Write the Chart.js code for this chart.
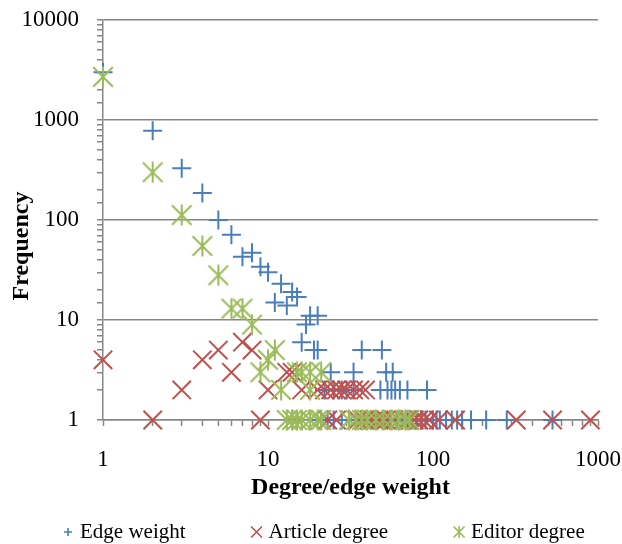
<!DOCTYPE html>
<html>
<head>
<meta charset="utf-8">
<title>Degree / edge weight distribution</title>
<script src="https://cdn.jsdelivr.net/npm/chart.js@4.4.1/dist/chart.umd.min.js"></script>
<style>
  html, body { margin: 0; padding: 0; background: #fff; }
  #wrap { width: 622px; height: 544px; }
</style>
</head>
<body>
<div id="wrap"><canvas id="degreeChart" width="622" height="544"></canvas></div>
<script>
// values
const edgeWeightX = [1, 2, 3, 4, 5, 6, 7, 8, 9, 10, 11, 12, 13, 14, 15, 16, 17, 18, 19, 20, 20,
  24, 33, 52, 57, 37, 49,
  22, 25, 28, 30, 33, 48, 53, 56, 59, 63, 70, 92,
  21, 23, 25, 28, 31, 34, 38, 42, 45, 50, 55, 60, 65, 70, 75, 80, 85, 90, 100, 105, 110, 120, 130, 140, 150, 170, 210, 280, 530];
const edgeWeightY = [3000, 780, 330, 186, 100, 71, 43, 47, 34, 30, 15, 23, 14, 19, 17, 6, 9, 11, 5, 11, 5,
  3, 3, 3, 3, 5, 5,
  2, 2, 2, 2, 2, 2, 2, 2, 2, 2, 2, 2,
  1, 1, 1, 1, 1, 1, 1, 1, 1, 1, 1, 1, 1, 1, 1, 1, 1, 1, 1, 1, 1, 1, 1, 1, 1, 1, 1, 1, 1];

const articleDegreeX = [1, 2, 3, 4, 5, 6, 7, 8, 9, 10, 13, 14,
  16, 20, 22, 24, 26, 28, 30, 33, 36, 39,
  23, 26, 35, 38, 41, 44, 47, 49, 52, 58, 62, 70, 77, 82, 88, 95, 108, 137, 320, 530, 900];
const articleDegreeY = [4, 1, 2, 4, 5, 3, 6, 5, 1, 2, 3, 3,
  2, 2, 2, 2, 2, 2, 2, 2, 2, 2,
  1, 1, 1, 1, 1, 1, 1, 1, 1, 1, 1, 1, 1, 1, 1, 1, 1, 1, 1, 1, 1];

const editorDegreeX = [1, 2, 3, 4, 5, 6, 7, 8, 9, 10, 11, 12, 18, 15, 16, 18, 21,
  13, 14, 15, 16, 18, 20, 21, 31, 34, 37, 40, 45, 50, 56, 62, 68, 72];
const editorDegreeY = [2700, 300, 112, 55, 28, 13, 13, 9, 3, 4, 5, 2, 2, 3, 3, 3, 3,
  1, 1, 1, 1, 1, 1, 1, 1, 1, 1, 1, 1, 1, 1, 1, 1, 1];

const seriesNames = ['Edge weight', 'Article degree', 'Editor degree'];
const seriesColors = ['#4a7ebb', '#c0504d', '#9bbb59'];

const GRID = '#868686';
const SERIF = "'Liberation Serif', 'Times New Roman', serif";

const toPoints = (xs, ys) => xs.map((x, i) => ({ x, y: ys[i] }));

function isDecade(v) {
  const p = Math.round(Math.log10(v));
  return Math.abs(v - Math.pow(10, p)) < 1e-6 * v;
}
const decadeLabel = v => isDecade(v) ? String(v) : '';

// plus / x / excel-like star (x with a vertical bar)
function drawMarker(ctx, kind, cx, cy, h, color, lw) {
  ctx.save();
  ctx.strokeStyle = color;
  ctx.lineWidth = lw;
  ctx.beginPath();
  if (kind === 'plus') {
    ctx.moveTo(cx - h, cy); ctx.lineTo(cx + h, cy);
    ctx.moveTo(cx, cy - h); ctx.lineTo(cx, cy + h);
  } else {
    ctx.moveTo(cx - h, cy - h); ctx.lineTo(cx + h, cy + h);
    ctx.moveTo(cx + h, cy - h); ctx.lineTo(cx - h, cy + h);
    if (kind === 'star') {
      ctx.moveTo(cx, cy - h * 1.08); ctx.lineTo(cx, cy + h * 1.08);
    }
  }
  ctx.stroke();
  ctx.restore();
}

function starCanvas(size, color, lw) {
  const c = document.createElement('canvas');
  c.width = size; c.height = size;
  drawMarker(c.getContext('2d'), 'star', size / 2, size / 2, size / 2 - 1.2, color, lw);
  return c;
}

const legendKinds = ['plus', 'x', 'star'];
const legendSizes = [4, 5.5, 5.5];

const bottomLegend = {
  id: 'bottomLegend',
  afterDraw(chart, args, opts) {
    const ctx = chart.ctx;
    ctx.save();
    ctx.font = opts.font;
    ctx.textBaseline = 'middle';
    ctx.textAlign = 'left';
    let cx = opts.x;
    chart.data.datasets.forEach((ds, i) => {
      drawMarker(ctx, legendKinds[i], cx, opts.y, legendSizes[i], ds.pointBorderColor, 1.6);
      const tx = cx + opts.textGap;
      ctx.fillStyle = '#000';
      ctx.fillText(ds.label, tx, opts.y);
      cx = tx + ctx.measureText(ds.label).width + opts.itemGap;
    });
    ctx.restore();
  }
};

const frequencyTitle = {
  id: 'frequencyTitle',
  afterDraw(chart, args, opts) {
    const ctx = chart.ctx;
    ctx.save();
    ctx.translate(opts.x, opts.y);
    ctx.rotate(-Math.PI / 2);
    ctx.font = opts.font;
    ctx.fillStyle = '#000';
    ctx.textAlign = 'center';
    ctx.textBaseline = 'middle';
    ctx.fillText(opts.text, 0, 0);
    ctx.restore();
  }
};

Chart.defaults.font.family = SERIF;
Chart.defaults.color = '#000';

const datasets = [
  {
    label: seriesNames[0],
    data: toPoints(edgeWeightX, edgeWeightY),
    pointStyle: 'cross', pointRadius: 9.5,
    pointBorderColor: seriesColors[0], pointBackgroundColor: seriesColors[0], pointBorderWidth: 2,
    order: 3
  },
  {
    label: seriesNames[1],
    data: toPoints(articleDegreeX, articleDegreeY),
    pointStyle: 'crossRot', pointRadius: 13,
    pointBorderColor: seriesColors[1], pointBackgroundColor: seriesColors[1], pointBorderWidth: 2,
    order: 2
  },
  {
    label: seriesNames[2],
    data: toPoints(editorDegreeX, editorDegreeY),
    pointStyle: starCanvas(22, seriesColors[2], 2), pointRadius: 10,
    pointBorderColor: seriesColors[2], pointBackgroundColor: seriesColors[2], pointBorderWidth: 2,
    order: 1
  }
];

new Chart(document.getElementById('degreeChart'), {
  type: 'scatter',
  data: { datasets: datasets.map(d => ({ ...d, showLine: false, clip: false })) },
  plugins: [bottomLegend, frequencyTitle],
  options: {
    responsive: false,
    animation: false,
    events: [],
    devicePixelRatio: 1,
    layout: { padding: { left: 0, right: 24, top: 20, bottom: 0 } },
    scales: {
      x: {
        type: 'logarithmic',
        min: 1, max: 1000,
        // fixed box; layout padding decides the plot edges
        afterFit: s => { s.height = 124; s.paddingLeft = 0; s.paddingRight = 0; },
        border: { color: GRID, width: 1.5 },
        grid: { color: 'rgba(0,0,0,0)', tickColor: GRID, tickLength: 6, tickWidth: 1.5 },
        ticks: { autoSkip: false, maxRotation: 0, padding: 20, font: { size: 23 }, callback: decadeLabel },
        title: {
          display: true, text: 'Degree/edge weight',
          font: { size: 24, weight: 'bold' },
          padding: { top: 0, bottom: 41.6 }
        }
      },
      y: {
        type: 'logarithmic',
        min: 1, max: 10000,
        afterFit: s => { s.width = 103; s.paddingTop = 0; s.paddingBottom = 0; },
        border: { color: GRID, width: 1.5 },
        grid: {
          color: c => (c.tick && isDecade(c.tick.value)) ? GRID : 'rgba(0,0,0,0)',
          lineWidth: 1.5, tickColor: GRID, tickLength: 6, tickWidth: 1.5
        },
        ticks: { autoSkip: false, padding: 18, font: { size: 23 }, callback: decadeLabel }
      }
    },
    plugins: {
      legend: { display: false },
      tooltip: { enabled: false },
      bottomLegend: { x: 68, y: 532, textGap: 12, itemGap: 71, font: '21px ' + SERIF },
      frequencyTitle: { x: 22, y: 246, text: 'Frequency', font: 'bold 24px ' + SERIF }
    }
  }
});
</script>
</body>
</html>
